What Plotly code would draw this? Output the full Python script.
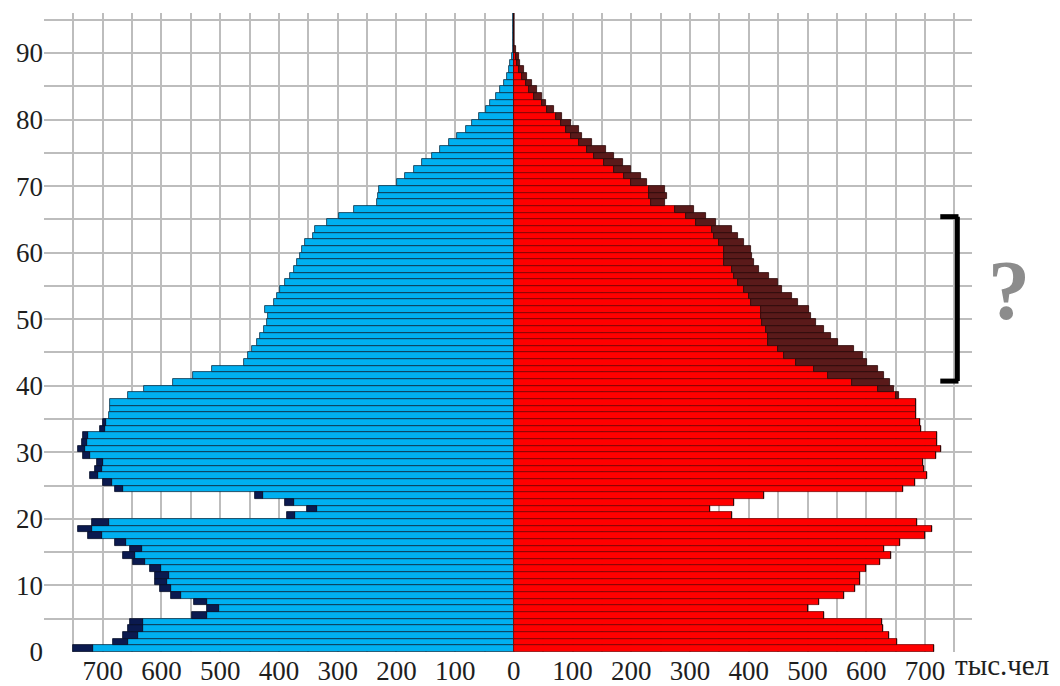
import plotly.graph_objects as go

# ---------------- data (thousand people, by single year of age) ----------------
ages = list(range(96))

male_main = [716, 657, 640, 631, 631, 522, 502, 522, 566, 583,
             591, 588, 600, 628, 645, 634, 660, 702, 719, 690,
             373, 336, 375, 427, 665, 685, 708, 702, 699, 722,
             730, 727, 725, 696, 694, 690, 688, 688, 657, 629,
             581, 547, 514, 460, 452, 446, 438, 432, 426, 420,
             419, 424, 409, 403, 398, 389, 381, 375, 369, 364,
             360, 355, 342, 338, 318, 297, 273, 233, 232, 230,
             199, 185, 170, 156, 139, 125, 111, 97, 82, 71,
             60, 48, 40, 31, 24, 17, 12, 8, 6, 3,
             2, 1, 1, 1, 1, 1]
male_extra = [34, 25, 25, 26, 23, 26, 20, 23, 17, 20,
              20, 23, 20, 20, 20, 20, 19, 23, 23, 29,
              14, 17, 14, 13, 14, 14, 14, 11, 11, 11,
              12, 9, 8, 9, 5] + [0] * 61

female_main = [716, 653, 639, 629, 627, 528, 501, 520, 562, 580,
               589, 590, 599, 624, 642, 630, 658, 700, 712, 686,
               372, 334, 374, 426, 662, 683, 703, 698, 696, 719,
               728, 721, 721, 694, 692, 685, 685, 685, 650, 620,
               575, 535, 511, 480, 460, 449, 432, 432, 429, 423,
               420, 420, 403, 400, 392, 381, 375, 372, 358, 358,
               358, 349, 341, 338, 310, 293, 275, 233, 230, 230,
               199, 187, 170, 153, 136, 125, 111, 97, 88, 80,
               71, 57, 48, 34, 26, 20, 14, 8, 6, 3,
               1, 1, 1, 1, 1, 1]
female_extra = [0] * 38 + [6, 28, 65, 95, 109, 122, 134, 130, 119, 108,
                           99, 91, 86, 83, 80, 74, 65, 68, 60, 45,
                           51, 48, 45, 43, 40, 34, 34, 34, 32, 25,
                           31, 28, 28, 29, 29, 32, 34, 31, 22, 19,
                           23, 17, 11, 11, 6, 14, 14, 11, 9, 9,
                           5, 5, 3] + [0] * 5

y_tick_vals = list(range(0, 96, 5))
y_tick_text = [str(v) if v % 10 == 0 else "" for v in y_tick_vals]
x_tick_vals = list(range(-800, 751, 50))
x_tick_text = [str(abs(v)) if (v % 100 == 0 and abs(v) <= 700) else "" for v in x_tick_vals]

unit_label = "тыс.чел"
question = "?"

# ---------------- figure ----------------
yc = [a + 0.5 for a in ages]
FONT = "Liberation Serif"
TICK_FONT = dict(family=FONT, size=27, color="#1e1e1e")

fig = go.Figure()
fig.add_trace(go.Bar(y=yc, x=[-v for v in male_main], orientation="h", width=1,
                     marker=dict(color="#00B0F0", line=dict(color="#0a2f45", width=0.8)),
                     showlegend=False, hoverinfo="skip"))
fig.add_trace(go.Bar(y=yc, x=[-v for v in male_extra], orientation="h", width=1,
                     marker=dict(color="#0b1a4f", line=dict(color="#050c26", width=0.8)),
                     showlegend=False, hoverinfo="skip"))
fig.add_trace(go.Bar(y=yc, x=female_main, orientation="h", width=1,
                     marker=dict(color="#FF0000", line=dict(color="#7a0000", width=0.8)),
                     showlegend=False, hoverinfo="skip"))
fig.add_trace(go.Bar(y=yc, x=female_extra, orientation="h", width=1,
                     marker=dict(color="#5a1a1a", line=dict(color="#2a0808", width=0.8)),
                     showlegend=False, hoverinfo="skip"))

# bracket with question mark
bx, by0, by1 = 755, 40.7, 65.4
fig.add_shape(type="line", x0=bx, x1=bx, y0=by0, y1=by1, line=dict(color="black", width=5))
fig.add_shape(type="line", x0=726, x1=bx + 2, y0=by1, y1=by1, line=dict(color="black", width=5))
fig.add_shape(type="line", x0=726, x1=bx + 2, y0=by0, y1=by0, line=dict(color="black", width=5))

fig.add_annotation(x=1.040, y=0.565, xref="paper", yref="paper", text="<b>" + question + "</b>",
                   showarrow=False, font=dict(family=FONT, size=84, color="#8c8c8c"),
                   xanchor="center", yanchor="middle")
fig.add_annotation(x=0.980, y=-0.021, xref="paper", yref="paper", text=unit_label, showarrow=False,
                   font=dict(family=FONT, size=29, color="#1e1e1e"),
                   xanchor="left", yanchor="middle")

fig.update_layout(
    width=1060, height=686,
    margin=dict(l=44, r=88, t=13, b=34),
    barmode="relative", bargap=0,
    plot_bgcolor="white", paper_bgcolor="white",
    font=dict(family=FONT, size=27, color="#1e1e1e"),
    xaxis=dict(range=[-800, 780], tickvals=x_tick_vals, ticktext=x_tick_text,
               showgrid=True, gridcolor="#bdbdbd", gridwidth=1.5, zeroline=False,
               showline=False, ticks="", automargin=False, tickfont=TICK_FONT),
    yaxis=dict(range=[0, 96], tickvals=y_tick_vals, ticktext=y_tick_text,
               showgrid=True, gridcolor="#bdbdbd", gridwidth=1.5, zeroline=False,
               showline=False, ticks="", automargin=False, tickfont=TICK_FONT),
)

fig.write_html("out.html", config={"displayModeBar": False},
               post_script="document.body.style.margin='0';document.body.style.overflow='hidden';")
